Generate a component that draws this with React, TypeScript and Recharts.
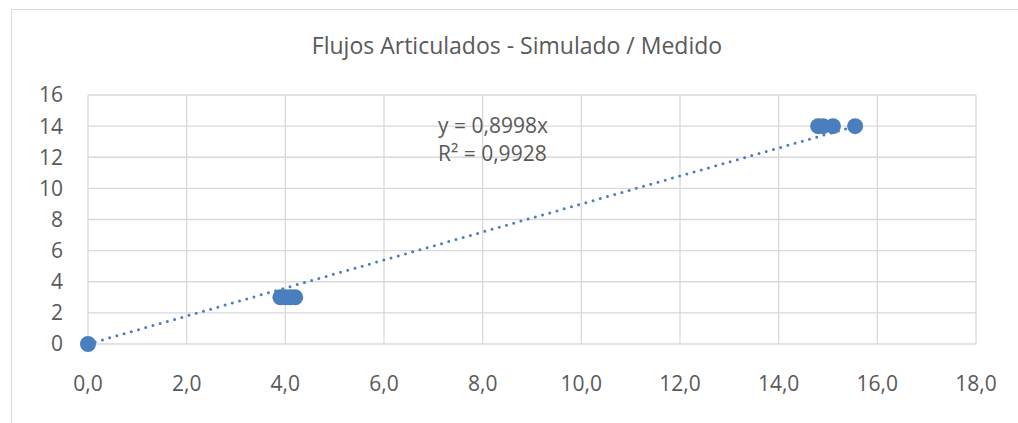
import React from 'react';
import { ScatterChart, Scatter, XAxis, YAxis, CartesianGrid } from 'recharts';

// measured (x) vs simulated (y) flows
const simulado = [0, 3.9, 4.0, 4.1, 4.2, 14.8, 14.9, 15.1, 15.55];
const medido = [0, 3, 3, 3, 3, 14, 14, 14, 14];
const xTicks = [0, 2, 4, 6, 8, 10, 12, 14, 16, 18];
const yTicks = [0, 2, 4, 6, 8, 10, 12, 14, 16];
const slope = 0.8998;
const trendLabel = ['y = 0,8998x', 'R² = 0,9928'];

const points = simulado.map((x, i) => ({ x, y: medido[i] }));
const xMax = Math.max(...simulado);
const trend = [
    { x: 0, y: 0 },
    { x: xMax, y: slope * xMax },
];

const FONT = '"Open Sans", "Liberation Sans", sans-serif';
const TEXT = '#595959';
const GRID = '#d9d9d9';
const BLUE = '#4a7ebf';

const App: React.FC = () => {
    return (
        <div style={{ position: 'absolute', left: 0, top: 0, width: 1018, height: 423, background: '#fff', overflow: 'hidden', fontFamily: FONT }}>
            <div style={{ position: 'absolute', left: 11, top: 9, width: 1100, height: 500, borderLeft: `1px solid ${GRID}`, borderTop: `1px solid ${GRID}` }} />
            <div style={{ position: 'absolute', left: 0, width: 1034, top: 30, textAlign: 'center', fontSize: 23, color: TEXT, lineHeight: '30px' }}>
                Flujos Articulados - Simulado / Medido
            </div>
            <div style={{ position: 'absolute', left: 0, top: 0 }}>
                <ScatterChart width={1018} height={423} margin={{ top: 95, right: 42, bottom: 39, left: 28 }}>
                    <CartesianGrid stroke={GRID} strokeWidth={1.3} />
                    <XAxis
                        type="number"
                        dataKey="x"
                        domain={[0, 18]}
                        ticks={xTicks}
                        interval={0}
                        height={40}
                        axisLine={false}
                        tickLine={false}
                        tickSize={6}
                        tickMargin={26}
                        tickFormatter={(v: number) => v.toFixed(1).replace('.', ',')}
                        tick={{ fill: TEXT, fontSize: 21, fontFamily: FONT }}
                    />
                    <YAxis
                        type="number"
                        dataKey="y"
                        domain={[0, 16]}
                        ticks={yTicks}
                        interval={0}
                        width={60}
                        axisLine={false}
                        tickLine={false}
                        tickSize={6}
                        tickMargin={19}
                        tick={{ fill: TEXT, fontSize: 21, fontFamily: FONT }}
                    />
                    <Scatter
                        data={trend}
                        line={{ stroke: BLUE, strokeWidth: 3, strokeDasharray: '0 7.5', strokeLinecap: 'round' }}
                        shape={() => <g />}
                        isAnimationActive={false}
                    />
                    <Scatter
                        data={points}
                        fill={BLUE}
                        shape={(p: any) => <circle cx={p.cx} cy={p.cy} r={8} fill={BLUE} />}
                        isAnimationActive={false}
                    />
                </ScatterChart>
            </div>
            <div style={{ position: 'absolute', left: 438, top: 111, fontSize: 21, color: TEXT, lineHeight: '28px' }}>
                {trendLabel.map((t) => (
                    <div key={t}>{t}</div>
                ))}
            </div>
        </div>
    );
};

export default App;
